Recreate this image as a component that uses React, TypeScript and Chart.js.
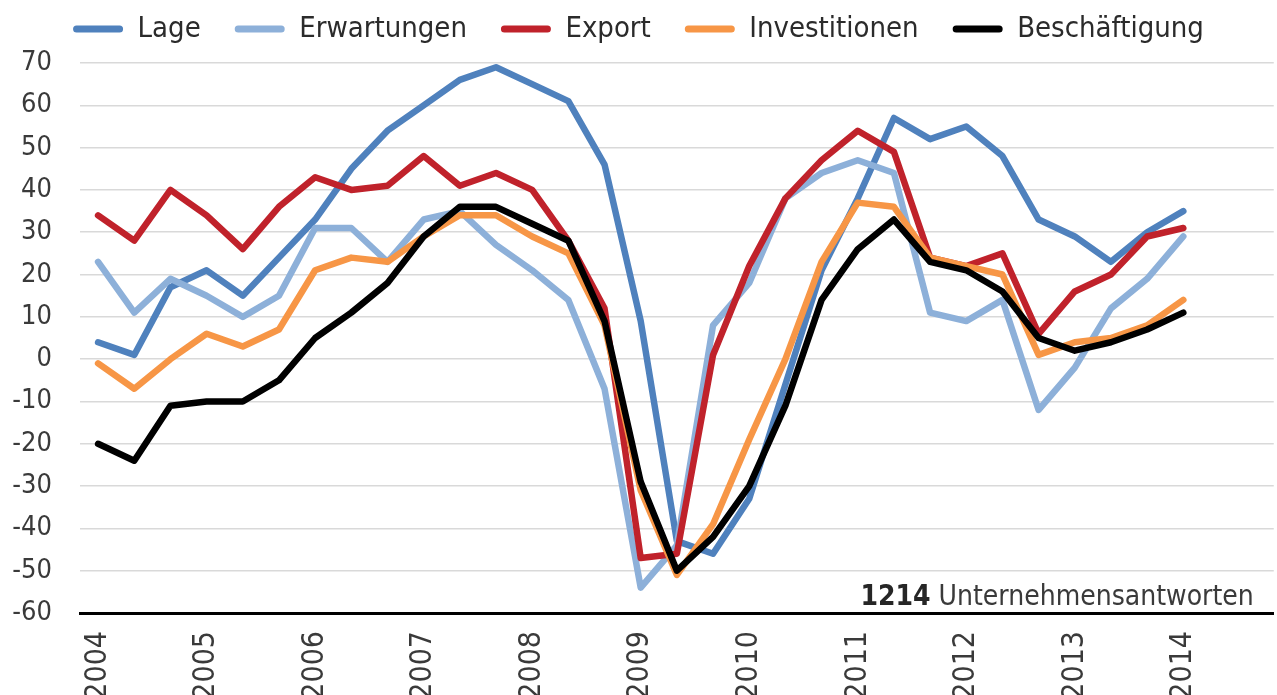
import React, { useEffect, useRef } from 'react';
import { Chart, registerables } from 'chart.js';

Chart.register(...registerables);

const FONT =
  "'Liberation Sans Narrow', 'DejaVu Sans Condensed', 'Roboto Condensed', 'Liberation Sans', Arial, sans-serif";

// ---- data ----
const years = ['2004', '2005', '2006', '2007', '2008', '2009', '2010', '2011', '2012', '2013', '2014'];
const surveysPerYear = 3;

const seriesNames = ['Lage', 'Erwartungen', 'Export', 'Investitionen', 'Beschäftigung'];
const seriesColors = ['#4f81bd', '#8db0d9', '#c0222b', '#f79646', '#000000'];

const lageValues = [4, 1, 17, 21, 15, 24, 33, 45, 54, 60, 66, 69, 65, 61, 46, 9, -43, -46, -33, -6, 21, 38, 57, 52, 55, 48, 33, 29, 23, 30, 35];
const erwartungenValues = [23, 11, 19, 15, 10, 15, 31, 31, 23, 33, 35, 27, 21, 14, -7, -54, -44, 8, 18, 38, 44, 47, 44, 11, 9, 14, -12, -2, 12, 19, 29];
const exportValues = [34, 28, 40, 34, 26, 36, 43, 40, 41, 48, 41, 44, 40, 28, 12, -47, -46, 1, 22, 38, 47, 54, 49, 24, 22, 25, 6, 16, 20, 29, 31];
const investitionenValues = [-1, -7, 0, 6, 3, 7, 21, 24, 23, 29, 34, 34, 29, 25, 8, -31, -51, -39, -19, 0, 23, 37, 36, 24, 22, 20, 1, 4, 5, 8, 14];
const beschaeftigungValues = [-20, -24, -11, -10, -10, -5, 5, 11, 18, 29, 36, 36, 32, 28, 9, -29, -50, -42, -30, -11, 14, 26, 33, 23, 21, 16, 5, 2, 4, 7, 11];

const yMin = -60;
const yMax = 70;
const yStep = 10;

const footnoteCount = '1214';
const footnoteText = 'Unternehmensantworten';

// ---- layout constants ----
const CANVAS_W = 1277;
const CANVAS_H = 710;
const PLOT_TOP = 63;
const PLOT_BOTTOM = 613;
const PLOT_LEFT = 80;
const LEGEND_PAD = 34;
const LEGEND_FONT = 29;
const LEGEND_CENTER = 29;
const TOP_OFFSET = LEGEND_CENTER - LEGEND_FONT / 2 - LEGEND_PAD;

const footnotePlugin = {
  id: 'footnote',
  afterDraw(chart: any) {
    const { ctx, chartArea } = chart;
    ctx.save();
    ctx.textBaseline = 'alphabetic';
    ctx.textAlign = 'left';
    ctx.font = `28px ${FONT}`;
    const restText = ' ' + footnoteText;
    const wRest = ctx.measureText(restText).width;
    ctx.font = `bold 28px ${FONT}`;
    const wBold = ctx.measureText(footnoteCount).width;
    const right = chartArea.right - 20;
    const baseY = 605;
    ctx.fillStyle = '#262626';
    ctx.fillText(footnoteCount, right - wRest - wBold, baseY);
    ctx.font = `28px ${FONT}`;
    ctx.fillStyle = '#3a3a3a';
    ctx.fillText(restText, right - wRest, baseY);
    ctx.restore();
  },
};

export default function App() {
  const canvasRef = useRef<HTMLCanvasElement | null>(null);

  useEffect(() => {
    if (!canvasRef.current) return;
    Chart.defaults.font.family = FONT;

    const categories: string[] = years.flatMap((y) => {
      const arr = [y];
      for (let i = 1; i < surveysPerYear; i++) arr.push('');
      return arr;
    });

    const allValues = [lageValues, erwartungenValues, exportValues, investitionenValues, beschaeftigungValues];

    const datasets = seriesNames.map((name, i) => ({
      label: name,
      data: allValues[i],
      borderColor: seriesColors[i],
      backgroundColor: seriesColors[i],
      borderWidth: 6.5,
      pointRadius: 0,
      pointHoverRadius: 0,
      tension: 0,
      fill: false,
      borderCapStyle: 'round' as const,
      borderJoinStyle: 'round' as const,
      order: seriesNames.length - i,
    }));

    const chart = new Chart(canvasRef.current, {
      type: 'line',
      data: { labels: categories, datasets },
      options: {
        responsive: false,
        animation: false,
        devicePixelRatio: 1,
        layout: { padding: { top: TOP_OFFSET, left: 0, right: 0, bottom: 0 } },
        plugins: {
          tooltip: { enabled: false },
          title: { display: false },
          legend: {
            display: true,
            position: 'top',
            labels: {
              boxWidth: 50,
              boxHeight: 7,
              padding: LEGEND_PAD,
              color: '#2b2b2b',
              font: { size: LEGEND_FONT, family: FONT },
              useBorderRadius: true,
              borderRadius: 3.5,
              sort: (a: any, b: any) => a.datasetIndex - b.datasetIndex,
              generateLabels: (c: any) =>
                (Chart.defaults.plugins.legend.labels as any).generateLabels(c).map((l: any) => ({
                  ...l,
                  lineWidth: 0,
                  strokeStyle: 'rgba(0,0,0,0)',
                  borderRadius: 3.5,
                })),
            },
          },
        },
        scales: {
          x: {
            type: 'category',
            offset: true,
            grid: { display: false, drawTicks: false },
            border: { display: true, color: '#000000', width: 3 },
            ticks: {
              autoSkip: false,
              minRotation: 90,
              maxRotation: 90,
              padding: 18,
              color: '#3a3a3a',
              font: { size: 30, family: FONT },
            },
            afterFit: (scale: any) => {
              scale.height = CANVAS_H - PLOT_BOTTOM;
              scale.paddingLeft = 0;
              scale.paddingRight = 0;
            },
          },
          y: {
            min: yMin,
            max: yMax,
            grid: { color: '#d9d9d9', lineWidth: 1.5, drawTicks: false },
            border: { display: false },
            ticks: {
              stepSize: yStep,
              padding: 28,
              color: '#3a3a3a',
              font: { size: 27, family: FONT },
            },
            afterFit: (scale: any) => {
              scale.width = PLOT_LEFT;
            },
          },
        },
      },
      plugins: [footnotePlugin],
    });

    const lg: any = chart.legend;
    if (lg) {
      const origFit = lg.fit.bind(lg);
      lg.fit = () => {
        origFit();
        lg.height = PLOT_TOP - TOP_OFFSET;
      };
      chart.update();
    }

    return () => {
      chart.destroy();
    };
  }, []);

  return (
    <div
      style={{
        position: 'absolute',
        left: 0,
        top: 0,
        width: CANVAS_W,
        height: 695,
        overflow: 'hidden',
        background: '#ffffff',
      }}
    >
      <canvas ref={canvasRef} width={CANVAS_W} height={CANVAS_H} style={{ display: 'block' }} />
    </div>
  );
}
